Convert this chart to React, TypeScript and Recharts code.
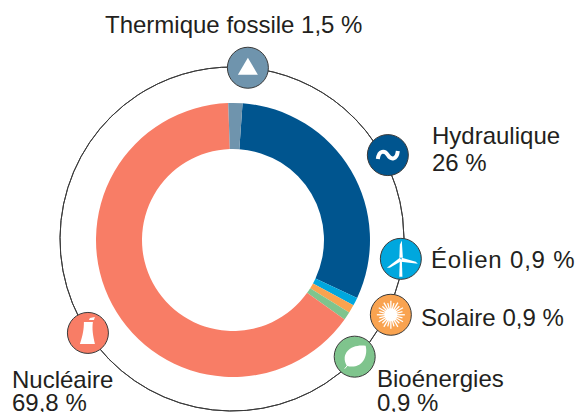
import { PieChart, Pie, Cell } from "recharts";

const CX = 233;
const CY = 240;
const RING_CX = 232;
const RING_CY = 239;
const RING_R = 172;
const MARKER_R = 20.5;
const INK = "#231f20";

// slice sizes as drawn in the picture (in degrees, not the printed percentages)
const sliceNames = ["Hydraulique", "Éolien", "Solaire", "Bioénergies", "Nucléaire", "Thermique fossile"];
const sliceValues = [111, 3.5, 3.5, 3.5, 232.5, 6];
const sliceColors = ["#00558f", "#00a7de", "#f9a350", "#7fc48d", "#f87d66", "#6f94ad"];

// outer ring: each span is centred on one marker, so the marker sits at its mid angle
const ringKinds = ["fossil", "hydro", "wind", "solar", "bio", "nuclear", "none"];
const ringSpans = [70.6, 42.2, 27.8, 9.8, 26.8, 179.4, 3.4];
const ringColors = ["#6f94ad", "#00558f", "#00a7de", "#f9a350", "#7fc48d", "#f87d66", "none"];
const ringLabels = [
  ["Thermique fossile 1,5 %"],
  ["Hydraulique", "26 %"],
  ["Éolien 0,9 %"],
  ["Solaire 0,9 %"],
  ["Bioénergies", "0,9 %"],
  ["Nucléaire", "69,8 %"],
  [],
];

// markers do not sit exactly on the ring in the original
const markerRadii = [172, 177, 170, 176, 170, 172, 172];
const labelAnchors = [
  { x: 105, y: 33, lead: 0, spacing: 0 },
  { x: 432, y: 144, lead: 27, spacing: 0 },
  { x: 431, y: 268, lead: 0, spacing: 0.8 },
  { x: 421, y: 326, lead: 0, spacing: 0 },
  { x: 377, y: 387, lead: 24, spacing: 0 },
  { x: 12, y: 388, lead: 23, spacing: 0 },
];

const sliceData = sliceNames.map((name, i) => ({ name, value: sliceValues[i] }));
const ringData = ringKinds.map((kind, i) => ({ kind, value: ringSpans[i] }));

function Icon({ kind }: { kind: string }) {
  if (kind === "fossil")
    return <path d="M0 -10 L10 7 L-10 7 Z" fill="#fff" />;
  if (kind === "hydro")
    return (
      <path
        d="M-10 4 C-9 -5 -3 -5 0 0 C3 5 9 5 10 -4"
        fill="none"
        stroke="#fff"
        strokeWidth={4}
      />
    );
  if (kind === "wind")
    return (
      <g fill="#fff">
        <path d="M-1 1 L1 1 L1.6 18 L-1.6 18 Z" />
        <path d="M-1.5 -1 L-1 -14 L1 -18 L2 -1 Z" />
        <path d="M1 -1 L15 3 L17 5 L0 3 Z" />
        <path d="M-1 -1 L1 2 L-11 9 L-14 9 Z" />
      </g>
    );
  if (kind === "solar") {
    const rays = Array.from({ length: 24 }, (_, i) => i * 15);
    return (
      <g stroke="#fff" strokeWidth={1.3}>
        <circle r={6.5} fill="#fff" stroke="none" />
        {rays.map((a) => (
          <line key={a} x1={0} y1={0} x2={0} y2={a % 30 ? -12 : -14} transform={`rotate(${a})`} />
        ))}
      </g>
    );
  }
  if (kind === "bio")
    return (
      <g>
        <path d="M-8 9 C-15 -4 -3 -13 11 -11 C14 3 4 13 -8 9 Z" fill="#fff" />
        <path d="M-10 12 L-3 4" stroke="#fff" strokeWidth={1} />
      </g>
    );
  return (
    <g fill="#fff">
      <path d="M-4 -11 L5 -11 C4 -4 5 2 7 11 L-8 11 C-5 2 -4 -4 -4 -11 Z" />
      <path d="M2 -15 L7 -16 L6 -13 L1 -13 Z" />
    </g>
  );
}

// marker circle, icon and caption, placed at the mid angle of a ring span
function renderMarker(props: any) {
  const { cx, cy, midAngle, index } = props;
  const kind = ringKinds[index];
  if (kind === "none") return <g key={index} />;
  const rad = (midAngle * Math.PI) / 180;
  const x = cx + markerRadii[index] * Math.cos(rad);
  const y = cy - markerRadii[index] * Math.sin(rad);
  const a = labelAnchors[index];
  return (
    <g key={index}>
      <g transform={`translate(${x},${y})`}>
        <circle r={MARKER_R} fill={ringColors[index]} stroke="#3a3a3a" strokeWidth={1} />
        <Icon kind={kind} />
      </g>
      <text
        x={a.x}
        y={a.y}
        fontFamily="Liberation Sans"
        fontSize={24}
        letterSpacing={a.spacing}
        fill={INK}
      >
        {ringLabels[index].map((line, i) => (
          <tspan key={i} x={a.x} dy={i === 0 ? 0 : a.lead}>
            {line}
          </tspan>
        ))}
      </text>
    </g>
  );
}

export default function App() {
  return (
    <div style={{ position: "absolute", left: 0, top: 0, width: 577, height: 412 }}>
      <PieChart width={577} height={412} margin={{ top: 0, right: 0, bottom: 0, left: 0 }}>
        <Pie
          data={sliceData}
          dataKey="value"
          cx={CX}
          cy={CY}
          innerRadius={91}
          outerRadius={137}
          startAngle={86}
          endAngle={-274}
          stroke="none"
          isAnimationActive={false}
        >
          {sliceData.map((d, i) => (
            <Cell key={d.name} fill={sliceColors[i]} />
          ))}
        </Pie>
        <Pie
          data={ringData}
          dataKey="value"
          cx={RING_CX}
          cy={RING_CY}
          innerRadius={RING_R}
          outerRadius={RING_R}
          startAngle={120}
          endAngle={-240}
          fill="none"
          stroke="#3a3a3a"
          strokeWidth={1}
          label={renderMarker}
          labelLine={false}
          isAnimationActive={false}
        />
      </PieChart>
    </div>
  );
}
